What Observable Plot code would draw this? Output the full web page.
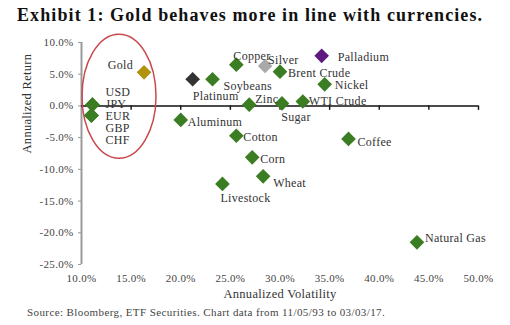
<!DOCTYPE html>
<html>
<head>
<meta charset="utf-8">
<script src="https://cdn.jsdelivr.net/npm/d3@7"></script>
<script src="https://cdn.jsdelivr.net/npm/@observablehq/plot@0.6"></script>
<style>
  html, body { margin: 0; padding: 0; background: #fff; }
  body { width: 510px; height: 325px; overflow: hidden; font-family: "Liberation Serif", serif; }
  #title { height: 30px; line-height: 30px; padding-left: 17px; font-size: 18px; font-weight: bold; color: #111; white-space: nowrap; letter-spacing: 1.1px; }
  #caption { padding-left: 27px; font-size: 11px; line-height: 14px; color: #444; white-space: nowrap; letter-spacing: 0.4px; }
</style>
</head>
<body>
<div id="title">Exhibit 1: Gold behaves more in line with currencies.</div>
<div id="chart"></div>
<div id="caption">Source: Bloomberg, ETF Securities. Chart data from 11/05/93 to 03/03/17.</div>
<script>
// ---- data (in %) ----
const names = ["USD", "JPY", "EUR", "GBP", "CHF", "Gold", "Platinum", "Soybeans", "Copper", "Silver",
  "Brent Crude", "Palladium", "Nickel", "Zinc", "Sugar", "WTI Crude", "Aluminum", "Cotton", "Corn",
  "Wheat", "Livestock", "Coffee", "Natural Gas"];
const volatility = [11.1, 11.1, 11.0, 11.0, 11.0, 16.3, 21.2, 23.2, 25.6, 28.5,
  30.0, 34.2, 34.5, 26.9, 30.2, 32.3, 20.0, 25.6, 27.2,
  28.3, 24.2, 36.9, 43.8];
const annualReturn = [0.2, 0.2, -1.5, -1.5, -1.5, 5.3, 4.2, 4.2, 6.5, 6.3,
  5.4, 7.9, 3.4, 0.2, 0.4, 0.7, -2.2, -4.7, -8.1,
  -11.1, -12.3, -5.2, -21.5];
const group = ["currency", "currency", "currency", "currency", "currency", "gold", "platinum", "commodity", "commodity", "silver",
  "commodity", "palladium", "commodity", "commodity", "commodity", "commodity", "commodity", "commodity", "commodity",
  "commodity", "commodity", "commodity", "commodity"];
const currencies = ["USD", "JPY", "EUR", "GBP", "CHF"];
const xTicks = [10, 15, 20, 25, 30, 35, 40, 45, 50];
const yTicks = [10, 5, 0, -5, -10, -15, -20, -25];
const xLabel = "Annualized Volatility";
const yLabel = "Annualized Return";

// ---- styles / layout (kept separate from the data) ----
const groupColors = {currency: "#3b7d23", commodity: "#3b7d23", gold: "#b1930f", platinum: "#333333", silver: "#a9a9a9", palladium: "#5e1a7e"};
const labelLayout = {
  "Gold": ["end", -11, -7],
  "Platinum": ["middle", 23, 17],
  "Soybeans": ["start", 11, 7],
  "Copper": ["start", -3, -9],
  "Silver": ["start", 3, -6],
  "Brent Crude": ["start", 8, 1],
  "Palladium": ["start", 16, 1],
  "Nickel": ["start", 10, 1],
  "Zinc": ["start", 6, -6],
  "Sugar": ["middle", 14, 14],
  "WTI Crude": ["start", 6, 0],
  "Aluminum": ["start", 7, 2],
  "Cotton": ["start", 7, 1],
  "Corn": ["start", 8, 2],
  "Wheat": ["start", 10, 7],
  "Livestock": ["start", -2, 14],
  "Coffee": ["start", 9, 3],
  "Natural Gas": ["start", 8, -4]
};
const ellipse = {cx: 13.83, cy: 1.45, rxPx: 37, ryPx: 62};

const points = names.map((n, i) => ({name: n, vol: volatility[i], ret: annualReturn[i], group: group[i]}));
const labeled = points.filter(d => labelLayout[d.name]);
const fmt = d => d.toFixed(1) + "%";
const textColor = "#333";

// one text mark per label so each can carry its own offset
const perLabel = labeled.map(d => {
  const [anchor, dx, dy] = labelLayout[d.name];
  return Plot.text([d], {x: "vol", y: "ret", text: "name", textAnchor: anchor, dx, dy, fontSize: 12, fill: textColor});
});

const ellipseMark = (index, scales) => {
  const e = document.createElementNS("http://www.w3.org/2000/svg", "ellipse");
  e.setAttribute("cx", scales.x(ellipse.cx));
  e.setAttribute("cy", scales.y(ellipse.cy));
  e.setAttribute("rx", ellipse.rxPx);
  e.setAttribute("ry", ellipse.ryPx);
  e.setAttribute("fill", "none");
  e.setAttribute("stroke", "#c9484c");
  e.setAttribute("stroke-width", 1.5);
  return e;
};

const chart = Plot.plot({
  width: 510,
  height: 275,
  marginTop: 12,
  marginBottom: 41,
  marginLeft: 81,
  marginRight: 32,
  style: {fontFamily: "Liberation Serif, serif", background: "#fff", letterSpacing: "0.3px"},
  x: {domain: [10, 50]},
  y: {domain: [-25, 10]},
  marks: [
    Plot.axisY({ticks: yTicks, tickFormat: fmt, tickSize: 3, tickPadding: 5, stroke: "#999", fill: "#444", fontSize: 11, label: null}),
    Plot.axisX({ticks: xTicks, tickFormat: fmt, tickSize: 0, tickPadding: 10, fill: "#444", fontSize: 11, label: null}),
    Plot.ruleX([10], {stroke: "#9a9a9a", strokeWidth: 2}),
    Plot.ruleY([0], {stroke: "#111", strokeWidth: 1.6}),
    Plot.ruleX(xTicks.slice(1), {x: d => d, y1: 0, y2: -0.7, stroke: "#111", strokeWidth: 1.4}),
    ellipseMark,
    Plot.dot(points, {x: "vol", y: "ret", symbol: "diamond2", r: 6.6, fill: d => groupColors[d.group], stroke: "none"}),
    Plot.text([currencies.join("\n")], {x: () => volatility[0], y: () => annualReturn[0], text: d => d, textAnchor: "start", lineAnchor: "top", lineHeight: 1.0, dx: 13, dy: -17, fontSize: 12, fill: textColor}),
    ...perLabel,
    Plot.text([xLabel], {frameAnchor: "bottom", dy: 33, fontSize: 12.5, fill: textColor}),
    Plot.text([yLabel], {frameAnchor: "left", rotate: -90, dx: -55, fontSize: 12.5, fill: textColor})
  ]
});
document.getElementById("chart").appendChild(chart);
</script>
</body>
</html>
